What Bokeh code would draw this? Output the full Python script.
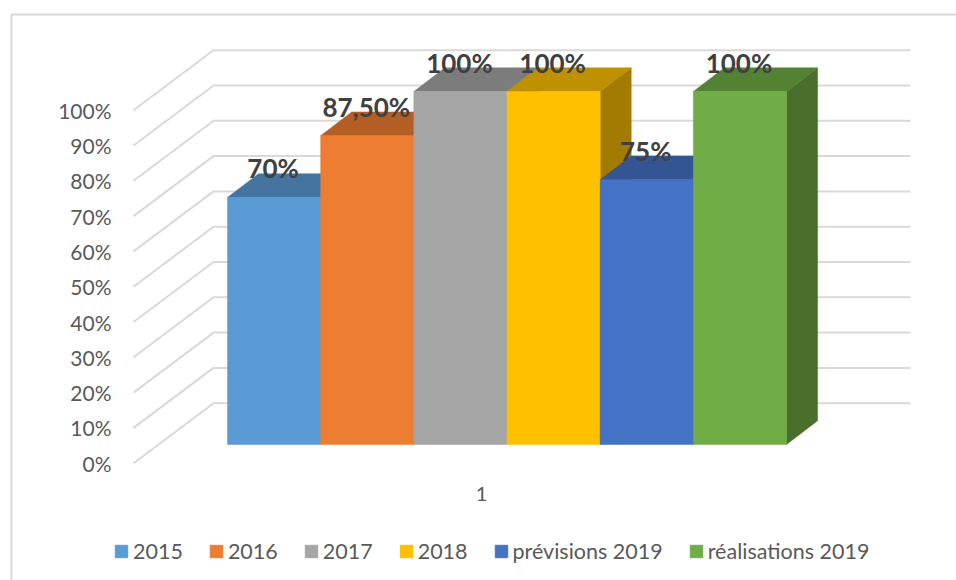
from bokeh.plotting import figure
from bokeh.embed import file_html
from bokeh.resources import INLINE
from bokeh.models import (Range1d, LinearAxis, FixedTicker, Legend, LegendItem,
                          BoxAnnotation, ColumnDataSource)
from bokeh.core.properties import value

series = ["2015", "2016", "2017", "2018", "prévisions 2019", "réalisations 2019"]
values = [70, 87.5, 100, 100, 75, 100]
labels = ["70%", "87,50%", "100%", "100%", "75%", "100%"]
y_ticks = [0, 10, 20, 30, 40, 50, 60, 70, 80, 90, 100]
y_tick_labels = ["0%", "10%", "20%", "30%", "40%", "50%", "60%", "70%", "80%", "90%", "100%"]
front = ["#5B9BD5", "#ED7D31", "#A5A5A5", "#FFC000", "#4472C4", "#70AD47"]
top = ["#44749F", "#B25E25", "#7C7C7C", "#BF9000", "#335593", "#548235"]
side = ["#3A6286", "#95501F", "#696969", "#A37B00", "#2C4A7E", "#4A6E2C"]

# Geometry of the projected box, in data units (1 x unit = one bar, 1 y unit = 1 %)
DX, DY = 0.333, 6.7
WALL_FRONT_X, WALL_BACK_X, WALL_END_X = -1.009, -0.15, 7.33
WALL_FRONT_DY, WALL_BACK_DY = -5.3, 11.7

W, H = 956, 580
PX_X, PX_Y = 93.17, 3.53
x0, y0 = 227, 444            # canvas pixel of the data origin
x_range = Range1d(-x0 / PX_X, (W - x0) / PX_X)
y_range = Range1d((y0 - H) / PX_Y, y0 / PX_Y)

p = figure(output_backend="svg", toolbar_location=None, x_range=x_range, y_range=y_range,
           x_axis_location=None, y_axis_location=None,
           width=W, height=H,
           min_border_left=0, min_border_right=0, min_border_top=0, min_border_bottom=0,
           outline_line_color=None, background_fill_color="white", border_fill_color="white")
p.xgrid.visible = False
p.ygrid.visible = False

p.add_layout(BoxAnnotation(left=11, right=2000, top=H - 14, bottom=-100,
                           left_units="screen", right_units="screen",
                           top_units="screen", bottom_units="screen",
                           fill_alpha=0, line_color="#D9D9D9", line_alpha=1,
                           line_width=2, level="underlay"))

p.extra_y_ranges["wall"] = Range1d(y_range.start - WALL_FRONT_DY, y_range.end - WALL_FRONT_DY)
centre = 481 / PX_X
p.extra_x_ranges["cat"] = Range1d(1 - centre, 1 + (W / PX_X - centre))

ya = LinearAxis(y_range_name="wall", ticker=FixedTicker(ticks=y_ticks),
                fixed_location=(115 - x0) / PX_X,
                major_label_overrides=dict(zip(y_ticks, y_tick_labels)),
                axis_line_color=None, major_tick_line_color=None, minor_tick_line_color=None,
                major_tick_in=0, major_tick_out=0, major_label_standoff=4,
                major_label_text_font="Lato", major_label_text_font_size="21px",
                major_label_text_color="#595959")
p.add_layout(ya, "left")
xa = LinearAxis(x_range_name="cat", ticker=FixedTicker(ticks=[1]),
                fixed_location=(y0 - 475) / PX_Y,
                axis_line_color=None, major_tick_line_color=None, minor_tick_line_color=None,
                major_tick_in=0, major_tick_out=0, major_label_standoff=11,
                major_label_text_font="Lato", major_label_text_font_size="20px",
                major_label_text_color="#595959")
p.add_layout(xa, "below")

p.multi_line(xs=[[WALL_FRONT_X, WALL_BACK_X, WALL_END_X] for t in y_ticks],
             ys=[[t + WALL_FRONT_DY, t + WALL_BACK_DY, t + WALL_BACK_DY] for t in y_ticks],
             line_color="#D9D9D9", line_width=2)

items = []
for i, v in enumerate(values):
    p.patch([i + 1, i + 1 + DX, i + 1 + DX, i + 1], [0, DY, v + DY, v],
            fill_color=side[i], line_color=side[i], line_width=0.5)
    p.patch([i, i + DX, i + 1 + DX, i + 1], [v, v + DY, v + DY, v],
            fill_color=top[i], line_color=top[i], line_width=0.5)
    r = p.quad(left=[i], right=[i + 1], bottom=[0], top=[v],
               fill_color=front[i], line_color=front[i], line_width=0.5)
    items.append(LegendItem(label=series[i], renderers=[r]))

src = ColumnDataSource(dict(x=[i + 0.5 for i in range(len(values))], y=values, t=labels))
p.text(x="x", y="y", text="t", source=src, text_align="center", text_baseline="middle",
       x_offset=-1, y_offset=-29, text_font=value("Lato"), text_font_size="26px",
       text_font_style="bold", text_color="#404040")

leg = Legend(items=items, orientation="horizontal", location=(113, 16), padding=0, margin=0,
             spacing=25, glyph_width=16, glyph_height=16, label_standoff=4,
             label_text_font="Lato", label_text_font_size="21.5px", label_text_color="#595959",
             border_line_color=None, background_fill_alpha=0)
p.add_layout(leg, "center")

open("out.html", "w").write(file_html(p, INLINE))
